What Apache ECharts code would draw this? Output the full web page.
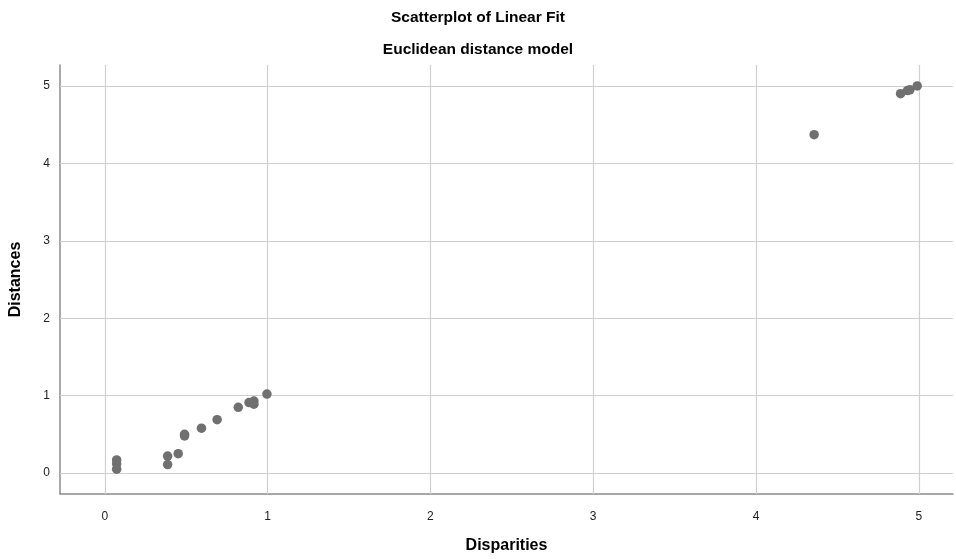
<!DOCTYPE html>
<html>
<head>
<meta charset="utf-8">
<title>Scatterplot of Linear Fit</title>
<script src="https://cdn.jsdelivr.net/npm/echarts@6/dist/echarts.min.js"></script>
<style>
  html, body { margin: 0; padding: 0; background: #ffffff; }
  #chart { width: 956px; height: 559px; }
</style>
</head>
<body>
<div id="chart"></div>
<script>
// Disparities (x) against fitted Euclidean distances (y)
const disparities = [0.073, 0.073, 0.073, 0.386, 0.386, 0.451, 0.49, 0.49, 0.594, 0.69, 0.82, 0.886, 0.916, 0.916, 0.996,
                     4.357, 4.888, 4.93, 4.945, 4.99];
const distances   = [0.17, 0.12, 0.05, 0.22, 0.11, 0.25, 0.48, 0.50, 0.58, 0.69, 0.85, 0.91, 0.93, 0.89, 1.02,
                     4.37, 4.90, 4.94, 4.95, 5.00];
const xTicks = [0, 1, 2, 3, 4, 5];
const yTicks = [0, 1, 2, 3, 4, 5];

const points = disparities.map((d, i) => [d, distances[i]]);
const font = 'Arial, "Liberation Sans", sans-serif';

const chart = echarts.init(document.getElementById('chart'), null, { renderer: 'canvas' });
chart.setOption({
  animation: false,
  backgroundColor: '#ffffff',
  title: [
    { text: 'Scatterplot of Linear Fit', left: 'center', top: 5,
      textStyle: { fontFamily: font, fontSize: 15.5, fontWeight: 'bold', color: '#000' } },
    { text: 'Euclidean distance model', left: 'center', top: 37,
      textStyle: { fontFamily: font, fontSize: 15.5, fontWeight: 'bold', color: '#000' } }
  ],
  grid: { left: 58, right: 3, top: 65, bottom: 63, containLabel: false },
  xAxis: {
    type: 'value', min: -0.275, max: 5.21,
    name: 'Disparities', nameLocation: 'middle', nameGap: 44,
    nameTextStyle: { fontFamily: font, fontSize: 16, fontWeight: 'bold', color: '#000' },
    axisLine: { show: true, onZero: false, lineStyle: { color: '#8c8c8c', width: 1.5 } },
    axisTick: { show: false, customValues: xTicks },
    axisLabel: { customValues: xTicks, fontFamily: font, fontSize: 12, color: '#222', margin: 17 },
    splitLine: { show: false }
  },
  yAxis: {
    type: 'value', min: -0.27, max: 5.27,
    name: 'Distances', nameLocation: 'middle', nameGap: 36,
    nameTextStyle: { fontFamily: font, fontSize: 16, fontWeight: 'bold', color: '#000' },
    axisLine: { show: true, onZero: false, lineStyle: { color: '#8c8c8c', width: 1.5 } },
    axisTick: { show: false, customValues: yTicks },
    axisLabel: { customValues: yTicks, fontFamily: font, fontSize: 12, color: '#222', margin: 10 },
    splitLine: { show: false }
  },
  series: [{
    type: 'scatter',
    data: points,
    symbol: 'circle',
    symbolSize: 9.5,
    itemStyle: { color: '#707070', opacity: 1 },
    z: 3,
    markLine: {
      silent: true,
      symbol: 'none',
      label: { show: false },
      lineStyle: { color: '#cfcfcf', width: 1.2, type: 'solid' },
      data: xTicks.map(v => ({ xAxis: v })).concat(yTicks.map(v => ({ yAxis: v }))),
      z: 1
    }
  }]
});
</script>
</body>
</html>
